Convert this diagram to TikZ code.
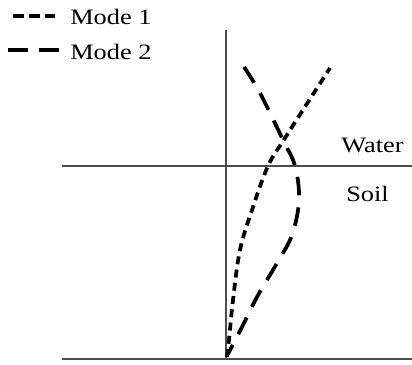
\documentclass[tikz,border=0pt]{standalone}
\usepackage{fontspec}
\setmainfont{Liberation Serif}[FakeStretch=1.2]

\begin{document}
\begin{tikzpicture}[
    x=0.75pt, y=-0.75pt,
    axis/.style={draw=black!70, line width=0.8pt},
    modeone/.style={line width=2.8pt, dash pattern=on 6pt off 4pt},
    modetwo/.style={line width=2.8pt, dash pattern=on 14pt off 9pt},
    label/.style={font=\fontsize{16.5}{19}\selectfont, inner sep=0pt, anchor=west}
  ]
    \useasboundingbox (0,0) rectangle (412,365);

    % Legend
    \draw[modeone, dash pattern=on 8pt off 4pt] (13,16) -- (55,16);
    \node[label] (leg-one) at (70,17) {Mode 1};
    \draw[modetwo, dash pattern=on 15pt off 8pt] (8,50) -- (62,50);
    \node[label] (leg-two) at (70,52) {Mode 2};

    % Axes
    \draw[axis] (226,30) -- (226,359);
    \draw[axis] (62,166) -- (412,166);
    \draw[axis] (62,359) -- (412,359);

    % Layer labels
    \node[label] (water) at (341,145) {Water};
    \node[label] (soil) at (346,194) {Soil};

    % Mode shapes
    \draw[modeone] plot[smooth, tension=0.6] coordinates {
        (227,357) (229,340) (233,300) (240,250) (252,210)
        (268,166) (285,138) (330,68)};
    \draw[modetwo] plot[smooth, tension=0.6] coordinates {
        (244,67) (260,93) (283,140) (295,166) (299,200)
        (292,235) (277,263) (257,297) (242,327) (228,354)};
\end{tikzpicture}
\end{document}
